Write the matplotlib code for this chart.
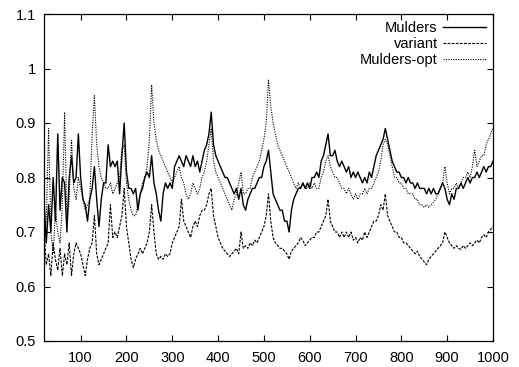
import numpy as np
import matplotlib
matplotlib.use("Agg")
import matplotlib.pyplot as plt
from matplotlib.ticker import FuncFormatter

# ---- data (sampled every 5 units from x=20 to x=1000) ----
x_start, x_step = 20, 5

mulders = [
    0.76, 0.68, 0.75, 0.70, 0.80, 0.72, 0.88, 0.74, 0.80, 0.79,
    0.70, 0.80, 0.84, 0.79, 0.80, 0.88, 0.80, 0.76, 0.75, 0.72,
    0.76, 0.78, 0.82, 0.76, 0.71, 0.76, 0.79, 0.79, 0.86, 0.82,
    0.83, 0.82, 0.83, 0.77, 0.84, 0.90, 0.81, 0.78, 0.78, 0.77,
    0.78, 0.74, 0.77, 0.78, 0.80, 0.81, 0.80, 0.84, 0.79, 0.77,
    0.74, 0.72, 0.77, 0.79, 0.78, 0.79, 0.78, 0.82, 0.83, 0.84,
    0.83, 0.82, 0.84, 0.83, 0.82, 0.84, 0.82, 0.83, 0.81, 0.83,
    0.85, 0.86, 0.88, 0.92, 0.86, 0.84, 0.83, 0.82, 0.81, 0.80,
    0.80, 0.79, 0.78, 0.77, 0.78, 0.76, 0.78, 0.75, 0.74, 0.76,
    0.77, 0.78, 0.78, 0.79, 0.80, 0.80, 0.82, 0.83, 0.85, 0.81,
    0.77, 0.76, 0.75, 0.74, 0.74, 0.72, 0.72, 0.70, 0.74, 0.76,
    0.77, 0.78, 0.78, 0.79, 0.78, 0.79, 0.78, 0.80, 0.80, 0.81,
    0.80, 0.83, 0.84, 0.86, 0.88, 0.84, 0.84, 0.85, 0.83, 0.82,
    0.83, 0.82, 0.81, 0.82, 0.80, 0.81, 0.80, 0.81, 0.80, 0.79,
    0.80, 0.79, 0.81, 0.80, 0.82, 0.84, 0.85, 0.86, 0.87, 0.89,
    0.87, 0.85, 0.83, 0.82, 0.81, 0.81, 0.80, 0.80, 0.79, 0.80,
    0.79, 0.79, 0.78, 0.79, 0.78, 0.78, 0.78, 0.77, 0.78, 0.77,
    0.78, 0.77, 0.77, 0.78, 0.79, 0.78, 0.76, 0.75, 0.77, 0.76,
    0.78, 0.78, 0.79, 0.78, 0.79, 0.80, 0.79, 0.80, 0.80, 0.81,
    0.80, 0.81, 0.82, 0.81, 0.82, 0.82, 0.83,
]

variant = [
    0.70, 0.64, 0.66, 0.62, 0.68, 0.65, 0.63, 0.67, 0.62, 0.66,
    0.64, 0.68, 0.62, 0.66, 0.68, 0.67, 0.66, 0.64, 0.62, 0.65,
    0.67, 0.68, 0.73, 0.66, 0.64, 0.65, 0.66, 0.67, 0.68, 0.75,
    0.69, 0.70, 0.69, 0.71, 0.73, 0.78, 0.71, 0.68, 0.65, 0.635,
    0.65, 0.66, 0.67, 0.66, 0.67, 0.68, 0.70, 0.75, 0.70, 0.66,
    0.65, 0.655, 0.65, 0.66, 0.655, 0.66, 0.68, 0.69, 0.70, 0.71,
    0.76, 0.72, 0.71, 0.70, 0.69, 0.71, 0.72, 0.71, 0.73, 0.74,
    0.74, 0.75, 0.77, 0.78, 0.73, 0.71, 0.69, 0.68, 0.67, 0.665,
    0.66, 0.655, 0.66, 0.665, 0.67, 0.66, 0.70, 0.67, 0.675, 0.67,
    0.68, 0.675, 0.685, 0.68, 0.69, 0.70, 0.71, 0.73, 0.77, 0.72,
    0.69, 0.68, 0.675, 0.67, 0.67, 0.665, 0.66, 0.65, 0.665, 0.67,
    0.675, 0.68, 0.69, 0.685, 0.675, 0.68, 0.685, 0.69, 0.69, 0.70,
    0.70, 0.71, 0.72, 0.73, 0.76, 0.72, 0.71, 0.70, 0.70, 0.69,
    0.70, 0.69, 0.70, 0.69, 0.70, 0.685, 0.69, 0.68, 0.69, 0.685,
    0.70, 0.69, 0.70, 0.71, 0.72, 0.72, 0.73, 0.75, 0.74, 0.77,
    0.73, 0.72, 0.71, 0.70, 0.70, 0.69, 0.69, 0.68, 0.68, 0.675,
    0.67, 0.665, 0.66, 0.665, 0.655, 0.65, 0.645, 0.64, 0.65, 0.655,
    0.66, 0.665, 0.67, 0.675, 0.68, 0.70, 0.69, 0.68, 0.675, 0.67,
    0.675, 0.67, 0.668, 0.675, 0.67, 0.675, 0.68, 0.675, 0.68, 0.685,
    0.68, 0.69, 0.695, 0.69, 0.70, 0.705, 0.71,
]

mulders_opt = [
    0.66, 0.72, 0.89, 0.70, 0.66, 0.74, 0.70, 0.68, 0.75, 0.92,
    0.72, 0.76, 0.87, 0.78, 0.76, 0.80, 0.78, 0.76, 0.74, 0.75,
    0.76, 0.88, 0.95, 0.86, 0.82, 0.80, 0.79, 0.78, 0.78, 0.79,
    0.77, 0.78, 0.79, 0.80, 0.85, 0.86, 0.79, 0.76, 0.74, 0.73,
    0.73, 0.75, 0.77, 0.79, 0.80, 0.82, 0.87, 0.97, 0.90, 0.87,
    0.85, 0.84, 0.83, 0.82, 0.81, 0.80, 0.79, 0.80, 0.81, 0.82,
    0.80, 0.79, 0.77, 0.76, 0.77, 0.79, 0.78, 0.77, 0.78, 0.80,
    0.81, 0.83, 0.86, 0.89, 0.83, 0.81, 0.80, 0.79, 0.78, 0.77,
    0.76, 0.75, 0.74, 0.76, 0.77, 0.79, 0.81, 0.77, 0.77, 0.78,
    0.78, 0.80, 0.81, 0.82, 0.83, 0.85, 0.87, 0.90, 0.98, 0.93,
    0.90, 0.88, 0.86, 0.85, 0.84, 0.83, 0.82, 0.81, 0.80, 0.79,
    0.78, 0.79, 0.78, 0.79, 0.78, 0.78, 0.79, 0.78, 0.79, 0.78,
    0.78, 0.80, 0.81, 0.83, 0.84, 0.82, 0.81, 0.80, 0.80, 0.79,
    0.78, 0.78, 0.77, 0.78, 0.77, 0.76, 0.77, 0.76, 0.77, 0.77,
    0.78, 0.77, 0.78, 0.78, 0.79, 0.80, 0.81, 0.83, 0.86, 0.87,
    0.86, 0.84, 0.82, 0.80, 0.80, 0.79, 0.79, 0.78, 0.78, 0.77,
    0.77, 0.77, 0.76, 0.76, 0.75, 0.75, 0.745, 0.75, 0.745, 0.75,
    0.755, 0.76, 0.77, 0.78, 0.79, 0.82, 0.79, 0.77, 0.78, 0.78,
    0.79, 0.78, 0.79, 0.80, 0.80, 0.81, 0.80, 0.82, 0.85, 0.82,
    0.83, 0.84, 0.84, 0.86, 0.87, 0.88, 0.89,
]

series_names = ["Mulders", "variant", "Mulders-opt"]
x_ticks = [100, 200, 300, 400, 500, 600, 700, 800, 900, 1000]
y_ticks = [0.5, 0.6, 0.7, 0.8, 0.9, 1.0, 1.1]

plt.rcParams['font.family'] = ['Liberation Sans', 'DejaVu Sans']

fig = plt.figure(figsize=(5.19, 3.67), dpi=100)
ax = fig.add_axes([44 / 519, 1 - 341 / 367, (493 - 44) / 519, (341 - 14) / 367])

def xs(vals):
    return x_start + x_step * np.arange(len(vals))

ax.plot(xs(mulders), mulders, color='black', lw=1.0, ls='-', label=series_names[0])
ax.plot(xs(variant), variant, color='black', lw=0.8, dashes=(2.5, 1.2), label=series_names[1])
ax.plot(xs(mulders_opt), mulders_opt, color='black', lw=0.8, dashes=(1.0, 1.2), label=series_names[2])

ax.set_xlim(20, 1000)
ax.set_ylim(0.5, 1.1)
ax.set_xticks(x_ticks)
ax.set_yticks(y_ticks)
ax.yaxis.set_major_formatter(FuncFormatter(lambda v, p: ('%g' % round(v, 2))))
ax.tick_params(direction='in', length=4, width=0.8, top=True, right=True,
               labelsize=10.5, colors='black')
ax.tick_params(axis='x', pad=7)
ax.tick_params(axis='y', pad=6)
for s in ax.spines.values():
    s.set_linewidth(0.9)

leg = ax.legend(loc='upper right', bbox_to_anchor=(1.005, 1.005), frameon=False,
                markerfirst=False, fontsize=10.5, handlelength=3.0,
                handletextpad=0.35, labelspacing=0.12, borderaxespad=0.2)

fig.savefig("out.png", dpi=100)
